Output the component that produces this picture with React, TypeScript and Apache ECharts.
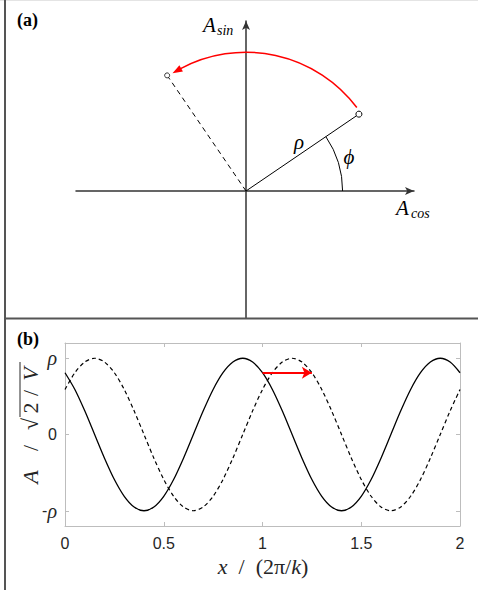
import React, { useEffect, useRef } from "react";
import * as echarts from "echarts";

const xValues = [
  0, 0.05, 0.1, 0.15, 0.2, 0.25, 0.3, 0.35, 0.4, 0.45, 0.5, 0.55, 0.6, 0.65, 0.7, 0.75, 0.8, 0.85, 0.9, 0.95,
  1, 1.05, 1.1, 1.15, 1.2, 1.25, 1.3, 1.35, 1.4, 1.45, 1.5, 1.55, 1.6, 1.65, 1.7, 1.75, 1.8, 1.85, 1.9, 1.95, 2,
];
const solidWave = [
  0.81, 0.59, 0.31, 0, -0.31, -0.59, -0.81, -0.95, -1, -0.95, -0.81, -0.59, -0.31, 0, 0.31, 0.59, 0.81, 0.95, 1, 0.95,
  0.81, 0.59, 0.31, 0, -0.31, -0.59, -0.81, -0.95, -1, -0.95, -0.81, -0.59, -0.31, 0, 0.31, 0.59, 0.81, 0.95, 1, 0.95,
  0.81,
];
const dashedWave = [
  0.59, 0.81, 0.95, 1, 0.95, 0.81, 0.59, 0.31, 0, -0.31, -0.59, -0.81, -0.95, -1, -0.95, -0.81, -0.59, -0.31, 0, 0.31,
  0.59, 0.81, 0.95, 1, 0.95, 0.81, 0.59, 0.31, 0, -0.31, -0.59, -0.81, -0.95, -1, -0.95, -0.81, -0.59, -0.31, 0, 0.31,
  0.59,
];
const shiftArrowStart = [1.0, 0.81];
const shiftArrowEnd = [1.25, 0.81];
const xTicks = [0, 0.5, 1, 1.5, 2];
const yTickValues = [-1, 0, 1];
const yTickLabels = ["-ρ", "0", "ρ"];

// ---------- Panel (a) data: phasor diagram (units of ρ) ----------
const origin = [0, 0];
const vectorSolid = [0.83, 0.565];
const vectorDashed = [-0.58, 0.85];
const phiArc = [0.71, 0, 34.2]; // radius, start deg, end deg
const rotationArc = [1.02, 37, 122]; // radius, start deg, tip deg

const SERIF = "Liberation Serif";
const SANS = "Liberation Sans";
const BOX = "#bdbdbd";
const TXT = "#262626";

export default function App() {
  const ref = useRef<HTMLDivElement>(null);

  useEffect(() => {
    if (!ref.current) return;
    const chart = echarts.init(ref.current, null, { renderer: "svg" });

    const renderPhasor = (params: any, api: any) => {
      const o = api.coord(origin);
      const unit = api.size([1, 0])[0];
      const p1 = api.coord(vectorSolid);
      const p2 = api.coord(vectorDashed);
      const rad = (d: number) => (d * Math.PI) / 180;
      const at = (r: number, deg: number) => [o[0] + r * unit * Math.cos(rad(deg)), o[1] - r * unit * Math.sin(rad(deg))];

      const rR = rotationArc[0];
      const headLen = 10;
      const headDeg = (headLen / (rR * unit)) * (180 / Math.PI);
      const tip = at(rR, rotationArc[2]);
      const base = at(rR, rotationArc[2] - headDeg);
      const dx = tip[0] - base[0];
      const dy = tip[1] - base[1];
      const len = Math.hypot(dx, dy);
      const nx = -dy / len;
      const ny = dx / len;
      const hw = 3.5;

      return {
        type: "group",
        children: [
          {
            type: "line",
            shape: { x1: o[0], y1: o[1], x2: p2[0], y2: p2[1] },
            style: { stroke: "#000", lineWidth: 1, lineDash: [5, 4] },
          },
          {
            type: "line",
            shape: { x1: o[0], y1: o[1], x2: p1[0], y2: p1[1] },
            style: { stroke: "#000", lineWidth: 1 },
          },
          {
            type: "arc",
            shape: {
              cx: o[0],
              cy: o[1],
              r: phiArc[0] * unit,
              startAngle: -rad(phiArc[2]),
              endAngle: -rad(phiArc[1]),
              clockwise: true,
            },
            style: { stroke: "#000", fill: null, lineWidth: 1 },
          },
          {
            type: "arc",
            shape: {
              cx: o[0],
              cy: o[1],
              r: rR * unit,
              startAngle: -rad(rotationArc[2] - headDeg + 0.5),
              endAngle: -rad(rotationArc[1]),
              clockwise: true,
            },
            style: { stroke: "#ff0000", fill: null, lineWidth: 1.5 },
          },
          {
            type: "polygon",
            shape: {
              points: [
                [tip[0], tip[1]],
                [base[0] + nx * hw, base[1] + ny * hw],
                [base[0] - nx * hw, base[1] - ny * hw],
              ],
            },
            style: { fill: "#ff0000", stroke: null },
          },
          {
            type: "circle",
            shape: { cx: p1[0], cy: p1[1], r: 3 },
            style: { fill: "#fff", stroke: "#000", lineWidth: 1 },
          },
          {
            type: "circle",
            shape: { cx: p2[0], cy: p2[1], r: 2.5 },
            style: { fill: "#fff", stroke: "#000", lineWidth: 0.8 },
          },
        ],
      };
    };

    const txt = (
      text: string,
      x: number,
      y: number,
      size: number,
      opts: { italic?: boolean; bold?: boolean; align?: string; fill?: string; family?: string } = {}
    ) => ({
      type: "text",
      x,
      y,
      silent: true,
      style: {
        text,
        fontFamily: opts.family || SERIF,
        fontSize: size,
        fontStyle: opts.italic ? "italic" : "normal",
        fontWeight: opts.bold ? "bold" : "normal",
        fill: opts.fill || "#000",
        align: opts.align || "left",
        verticalAlign: "middle",
      },
    });

    const option: any = {
      animation: false,
      backgroundColor: "#fff",
      grid: [
        { left: 76, top: 21, width: 338, height: 297 },
        { left: 65, top: 343, width: 395, height: 183 },
      ],
      xAxis: [
        {
          gridIndex: 0,
          type: "value",
          min: -1.25,
          max: 1.235,
          axisLine: {
            show: true,
            onZero: true,
            symbol: ["none", "arrow"],
            symbolSize: [6, 9],
            lineStyle: { color: "#333", width: 1.5 },
          },
          axisTick: { show: false },
          axisLabel: { show: false },
          splitLine: { show: false },
        },
        {
          gridIndex: 1,
          type: "value",
          min: 0,
          max: 2,
          interval: 0.5,
          position: "bottom",
          axisLine: { show: true, onZero: false, lineStyle: { color: BOX, width: 1 } },
          axisTick: { show: true, inside: true, length: 4, lineStyle: { color: BOX } },
          axisLabel: {
            show: true,
            margin: 9,
            color: TXT,
            fontFamily: SANS,
            fontSize: 16,
            formatter: (v: number) => (xTicks.includes(v) ? String(v) : ""),
          },
          splitLine: { show: false },
        },
        {
          gridIndex: 1,
          type: "value",
          min: 0,
          max: 2,
          interval: 0.5,
          position: "top",
          axisLine: { show: true, onZero: false, lineStyle: { color: BOX, width: 1 } },
          axisTick: { show: true, inside: true, length: 4, lineStyle: { color: BOX } },
          axisLabel: { show: false },
          splitLine: { show: false },
        },
      ],
      yAxis: [
        {
          gridIndex: 0,
          type: "value",
          min: -0.934,
          max: 1.25,
          axisLine: {
            show: true,
            onZero: true,
            symbol: ["none", "arrow"],
            symbolSize: [6, 9],
            lineStyle: { color: "#333", width: 1.5 },
          },
          axisTick: { show: false },
          axisLabel: { show: false },
          splitLine: { show: false },
        },
        {
          gridIndex: 1,
          type: "value",
          min: -1.2,
          max: 1.2,
          position: "left",
          axisLine: { show: true, onZero: false, lineStyle: { color: BOX, width: 1 } },
          axisTick: { show: true, inside: true, length: 4, customValues: yTickValues, lineStyle: { color: BOX } },
          axisLabel: {
            show: true,
            margin: 8,
            customValues: yTickValues,
            formatter: (v: number) => {
              const i = yTickValues.indexOf(v);
              const s = i >= 0 ? yTickLabels[i] : "";
              if (s === "0") return "{s|0}";
              if (s === "ρ") return "{g|ρ}";
              if (s === "-ρ") return "{s|-}{g|ρ}";
              return "";
            },
            rich: {
              s: { fontFamily: SANS, fontSize: 16, color: TXT },
              g: { fontFamily: SERIF, fontStyle: "italic", fontSize: 20, color: TXT },
            },
          },
          splitLine: { show: false },
        },
        {
          gridIndex: 1,
          type: "value",
          min: -1.2,
          max: 1.2,
          position: "right",
          axisLine: { show: true, onZero: false, lineStyle: { color: BOX, width: 1 } },
          axisTick: { show: true, inside: true, length: 4, customValues: yTickValues, lineStyle: { color: BOX } },
          axisLabel: { show: false },
          splitLine: { show: false },
        },
      ],
      series: [
        {
          type: "custom",
          xAxisIndex: 0,
          yAxisIndex: 0,
          clip: false,
          silent: true,
          renderItem: renderPhasor,
          data: [origin],
        },
        {
          type: "line",
          xAxisIndex: 1,
          yAxisIndex: 1,
          data: xValues.map((x, i) => [x, dashedWave[i]]),
          smooth: 0.3,
          showSymbol: false,
          lineStyle: { color: "#000", width: 1.2, type: [4, 3] },
          silent: true,
        },
        {
          type: "line",
          xAxisIndex: 1,
          yAxisIndex: 1,
          data: xValues.map((x, i) => [x, solidWave[i]]),
          smooth: 0.3,
          showSymbol: false,
          lineStyle: { color: "#000", width: 1.3 },
          silent: true,
          markLine: {
            silent: true,
            symbol: ["none", "arrow"],
            symbolSize: [9, 10],
            label: { show: false },
            lineStyle: { color: "#ff0000", width: 2, type: "solid" },
            data: [[{ coord: shiftArrowStart }, { coord: shiftArrowEnd }]],
          },
        },
      ],
      graphic: [
        // frame
        { type: "line", z: -1, shape: { x1: 0, y1: 0.5, x2: 478, y2: 0.5 }, style: { stroke: "#e4e4e4", lineWidth: 1 } },
        { type: "line", z: 10, shape: { x1: 5, y1: 0, x2: 5, y2: 590 }, style: { stroke: "#555", lineWidth: 2 } },
        { type: "line", z: 10, shape: { x1: 5, y1: 318.5, x2: 478, y2: 318.5 }, style: { stroke: "#555", lineWidth: 2 } },
        // panel labels
        txt("(a)", 17, 20, 18, { bold: true }),
        txt("(b)", 17, 339, 18, { bold: true }),
        // panel (a) texts
        txt("A", 203, 25, 21, { italic: true }),
        txt("sin", 217, 30, 14, { italic: true }),
        txt("A", 396, 208, 21, { italic: true }),
        txt("cos", 411, 213, 14, { italic: true }),
        txt("ρ", 299, 142, 21, { italic: true, align: "center" }),
        txt("ϕ", 349, 157, 21, { italic: true, align: "center" }),
        // panel (b) x-axis title
        {
          type: "text",
          x: 263,
          y: 566,
          silent: true,
          style: {
            text: "{i|x}{r|  /  (2π/}{i|k}{r|)}",
            align: "center",
            verticalAlign: "middle",
            rich: {
              i: { fontFamily: SERIF, fontStyle: "italic", fontSize: 22, fill: TXT },
              r: { fontFamily: SERIF, fontSize: 22, fill: TXT },
            },
          },
        },
        // panel (b) y-axis title (rotated)
        {
          type: "group",
          x: 30,
          y: 424,
          rotation: Math.PI / 2,
          children: [
            txt("A", -53, 0, 22, { italic: true, align: "center", fill: TXT }),
            txt("/", -24, 0, 22, { align: "center", fill: TXT }),
            txt("√", 0, 0, 22, { align: "center", fill: TXT }),
            txt("2", 16, 0, 22, { align: "center", fill: TXT }),
            txt("/", 31, 0, 22, { align: "center", fill: TXT }),
            txt("V", 50, 0, 22, { italic: true, align: "center", fill: TXT }),
            {
              type: "line",
              shape: { x1: 7, y1: -10, x2: 62, y2: -10 },
              style: { stroke: TXT, lineWidth: 1 },
            },
          ],
        },
      ],
    };

    chart.setOption(option);
    return () => chart.dispose();
  }, []);

  return (
    <div
      ref={ref}
      style={{ position: "fixed", left: 0, top: 0, width: 478, height: 590, background: "#fff" }}
    />
  );
}
